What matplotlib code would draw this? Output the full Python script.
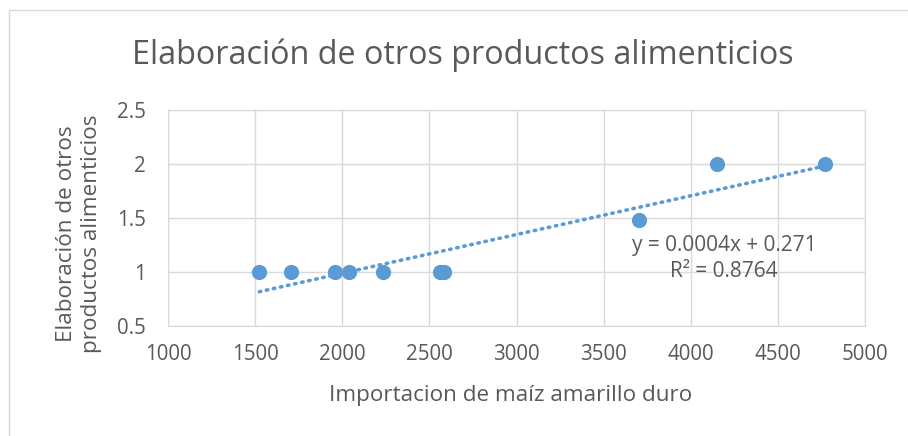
import matplotlib

matplotlib.use("Agg")
import matplotlib.pyplot as plt
import numpy as np
from matplotlib.patches import Rectangle

# values
importacion = [1524, 1708, 1960, 2041, 2236, 2560, 2586, 3705, 4148, 4773]
elaboracion = [1.0, 1.0, 1.0, 1.0, 1.0, 1.0, 1.0, 1.48, 2.0, 2.0]
x_ticks = [1000, 1500, 2000, 2500, 3000, 3500, 4000, 4500, 5000]
y_ticks = [0.5, 1, 1.5, 2, 2.5]
y_tick_labels = ["0.5", "1", "1.5", "2", "2.5"]
eq_text = "y = 0.0004x + 0.271\nR² = 0.8764"

blue = "#5B9BD5"
grid = "#D9D9D9"
txt = "#595959"

plt.rcParams["font.family"] = ["Open Sans", "DejaVu Sans"]

fig = plt.figure(figsize=(9.08, 4.36), dpi=100)
fig.patches.append(Rectangle((9 / 908, -0.1), 1.2, 1 - 10 / 436 + 0.1,
                             transform=fig.transFigure, fill=False,
                             edgecolor=grid, linewidth=1))
ax = fig.add_axes([168 / 908, 1 - 326 / 436, (865 - 168) / 908, (326 - 110) / 436])

# linear trend
coef = np.polyfit(importacion, elaboracion, 1)
xs = np.array([min(importacion), max(importacion)])
ax.plot(xs, np.polyval(coef, xs), color=blue, linewidth=2.6,
        linestyle=(0, (0.4, 1.6)), dash_capstyle="round", zorder=2)
ax.scatter(importacion, elaboracion, s=120, color=blue, zorder=3, linewidths=0)

ax.set_xlim(1000, 5000)
ax.set_ylim(0.5, 2.5)
ax.set_xticks(x_ticks)
ax.set_yticks(y_ticks)
ax.set_yticklabels(y_tick_labels)
ax.grid(True, color=grid, linewidth=1)
ax.set_axisbelow(True)
for s in ax.spines.values():
    s.set_color(grid)
ax.tick_params(length=0, labelsize=14.8, colors=txt)
ax.tick_params(axis="x", pad=13)
ax.tick_params(axis="y", pad=16)

ax.text(4190, 1.125, eq_text, ha="center", va="center", fontsize=15,
        color=txt, linespacing=1.35)

fig.text(511 / 908, 1 - 395 / 436, "Importacion de maíz amarillo duro",
         ha="center", va="center", fontsize=16.2, color=txt)
fig.text(79 / 908, 1 - 234 / 436, "Elaboración de otros\nproductos alimenticios",
         ha="center", va="center", rotation=90, fontsize=16.2, color=txt,
         linespacing=1.2)
fig.text(463 / 908, 1 - 55 / 436, "Elaboración de otros productos alimenticios",
         ha="center", va="center", fontsize=23.3, color=txt)

fig.savefig("out.png", dpi=100)
plt.close(fig)
